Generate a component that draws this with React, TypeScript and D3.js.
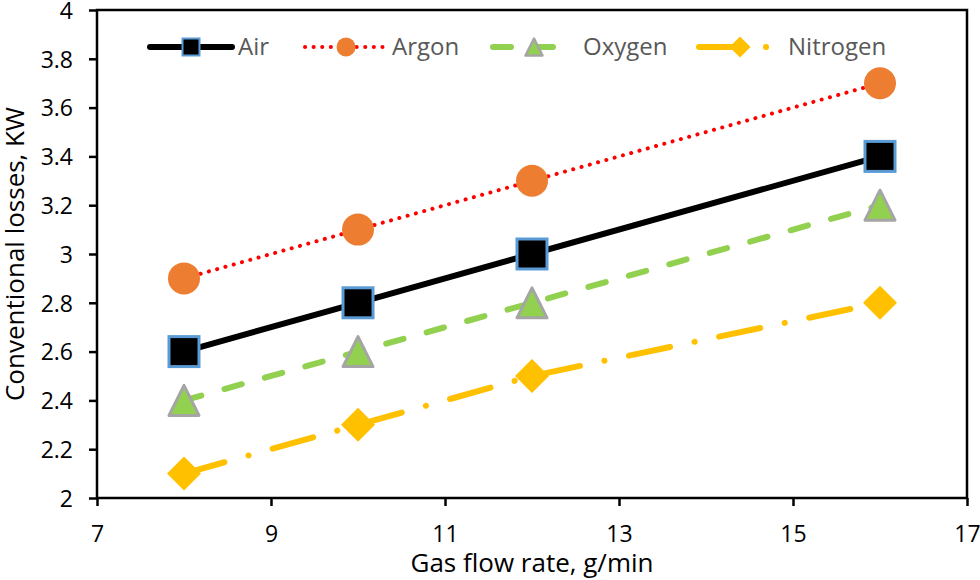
import React, { useEffect, useRef } from 'react';
import * as d3 from 'd3';

const flowRates = [8, 10, 12, 16];
const airLoss = [2.6, 2.8, 3.0, 3.4];
const argonLoss = [2.9, 3.1, 3.3, 3.7];
const oxygenLoss = [2.4, 2.6, 2.8, 3.2];
const nitrogenLoss = [2.1, 2.3, 2.5, 2.8];

const xTicks = [7, 9, 11, 13, 15, 17];
const yTicks = [2, 2.2, 2.4, 2.6, 2.8, 3, 3.2, 3.4, 3.6, 3.8, 4];

type Marker = 'square' | 'circle' | 'triangle' | 'diamond';

interface Series {
  name: string;
  values: number[];
  stroke: string;
  width: number;
  dash: string | null;
  marker: Marker;
  fill: string;
  markerStroke: string;
}

const series: Series[] = [
  { name: 'Air', values: airLoss, stroke: '#000000', width: 6, dash: null, marker: 'square', fill: '#000000', markerStroke: '#5B9BD5' },
  { name: 'Argon', values: argonLoss, stroke: '#FF0000', width: 4, dash: '0.1 8.5', marker: 'circle', fill: '#ED7D31', markerStroke: '#ED7D31' },
  { name: 'Oxygen', values: oxygenLoss, stroke: '#92D050', width: 6, dash: '18 24', marker: 'triangle', fill: '#92D050', markerStroke: '#A5A5A5' },
  { name: 'Nitrogen', values: nitrogenLoss, stroke: '#FFC000', width: 6, dash: '42 25 0.1 25', marker: 'diamond', fill: '#FFC000', markerStroke: '#FFC000' },
];

const FONT = '"Open Sans", "Liberation Sans", sans-serif';

function drawMarker(g: d3.Selection<SVGGElement, unknown, null, undefined>, s: Series, size: number) {
  const h = size / 2;
  if (s.marker === 'square') {
    g.append('rect').attr('x', -h).attr('y', -h).attr('width', size).attr('height', size)
      .attr('fill', s.fill).attr('stroke', s.markerStroke).attr('stroke-width', size > 20 ? 3 : 2);
  } else if (s.marker === 'circle') {
    g.append('circle').attr('r', h + 1).attr('fill', s.fill);
  } else if (s.marker === 'triangle') {
    g.append('path').attr('d', `M0,${-h}L${h},${h}L${-h},${h}Z`)
      .attr('fill', s.fill).attr('stroke', s.markerStroke).attr('stroke-width', size > 20 ? 3 : 2.5)
      .attr('stroke-linejoin', 'round');
  } else {
    const r = h + 2;
    g.append('path').attr('d', `M0,${-r}L${r},0L0,${r}L${-r},0Z`).attr('fill', s.fill);
  }
}

const Chart: React.FC = () => {
  const svgRef = useRef<SVGSVGElement>(null);

  useEffect(() => {
    if (!svgRef.current) return;
    document.body.style.margin = '0';
    const width = 980;
    const height = 580;
    const margin = { top: 10, right: 13, bottom: 82, left: 97 };

    const svg = d3.select(svgRef.current);
    svg.selectAll('*').remove();

    const x = d3.scaleLinear().domain([7, 17]).range([margin.left, width - margin.right]);
    const y = d3.scaleLinear().domain([2, 4]).range([height - margin.bottom, margin.top]);

    // frame
    svg.append('rect')
      .attr('x', x(7)).attr('y', y(4))
      .attr('width', x(17) - x(7)).attr('height', y(2) - y(4))
      .attr('fill', 'none').attr('stroke', '#000').attr('stroke-width', 2.5);

    // x axis
    const xAxis = svg.append('g')
      .attr('transform', `translate(0,${y(2)})`)
      .call(d3.axisBottom(x).tickValues(xTicks).tickSize(8).tickFormat(d3.format('d')));
    xAxis.select('.domain').remove();
    xAxis.selectAll('line').attr('stroke', '#000').attr('stroke-width', 2.5);
    xAxis.selectAll('text').attr('font-family', FONT).attr('font-size', 23).attr('fill', '#000').attr('dy', '1.45em');

    // y axis
    const yAxis = svg.append('g')
      .attr('transform', `translate(${x(7)},0)`)
      .call(d3.axisLeft(y).tickValues(yTicks).tickSize(8).tickFormat(d => String(+(+d).toFixed(1))));
    yAxis.select('.domain').remove();
    yAxis.selectAll('line').attr('stroke', '#000').attr('stroke-width', 2.5);
    yAxis.selectAll('text').attr('font-family', FONT).attr('font-size', 23).attr('fill', '#000').attr('x', -24).attr('dy', '0.36em');

    // titles
    svg.append('text')
      .attr('x', (x(7) + x(17)) / 2).attr('y', 572)
      .attr('text-anchor', 'middle').attr('font-family', FONT).attr('font-size', 26).attr('fill', '#000')
      .text('Gas flow rate, g/min');
    svg.append('text')
      .attr('transform', `translate(24,${(y(2) + y(4)) / 2}) rotate(-90)`)
      .attr('text-anchor', 'middle').attr('font-family', FONT).attr('font-size', 26).attr('fill', '#000')
      .text('Conventional losses, KW');

    const line = d3.line<number>()
      .x((_, i) => x(flowRates[i]))
      .y(d => y(d));

    series.forEach(s => {
      svg.append('path')
        .attr('d', line(s.values) as string)
        .attr('fill', 'none')
        .attr('stroke', s.stroke)
        .attr('stroke-width', s.width)
        .attr('stroke-linecap', 'round')
        .attr('stroke-dasharray', s.dash);
    });

    series.forEach(s => {
      s.values.forEach((v, i) => {
        const g = svg.append('g').attr('transform', `translate(${x(flowRates[i])},${y(v)})`);
        drawMarker(g, s, 30);
      });
    });

    // legend: marker centre and text start for each entry, line spans 41px either side
    const legendMarkerX = [191, 346, 534, 740];
    const legendTextX = [238, 392, 583, 788];
    const ly = 47;
    series.forEach((s, i) => {
      const mx = legendMarkerX[i];
      svg.append('line')
        .attr('x1', mx - 41).attr('x2', mx + 41).attr('y1', ly).attr('y2', ly)
        .attr('stroke', s.stroke).attr('stroke-width', s.width)
        .attr('stroke-linecap', 'round')
        .attr('stroke-dasharray', s.dash);
      const g = svg.append('g').attr('transform', `translate(${mx},${ly})`);
      drawMarker(g, s, 17);
      svg.append('text')
        .attr('x', legendTextX[i]).attr('y', ly).attr('dy', '0.35em')
        .attr('font-family', FONT).attr('font-size', 24).attr('fill', '#595959')
        .text(s.name);
    });
  }, []);

  return <svg ref={svgRef} width={980} height={580} style={{ display: 'block', background: '#fff' }} />;
};

export default function App() {
  return <Chart />;
}
